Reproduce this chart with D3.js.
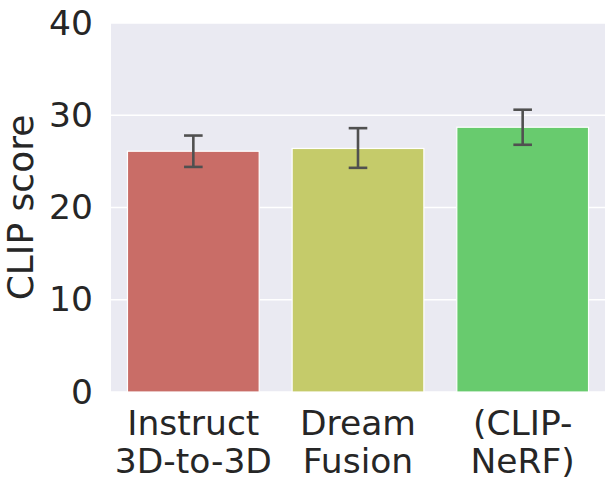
<!DOCTYPE html>
<html>
<head>
<meta charset="utf-8">
<script src="https://cdn.jsdelivr.net/npm/d3@7"></script>
<style>
  body { margin: 0; background: #fff; }
  svg { display: block; font-family: "DejaVu Sans", sans-serif; }
</style>
</head>
<body>
<div id="chart"></div>
<script>
// clip score bar chart
var methods = [["Instruct", "3D-to-3D"], ["Dream", "Fusion"], ["(CLIP-", "NeRF)"]];
var scores = [26.1, 26.4, 28.7];
var errLow = [24.4, 24.3, 26.8];
var errHigh = [27.8, 28.6, 30.6];
var barColors = ["#c96d67", "#c5cb6a", "#68cb6e"];
var yTicks = [0, 10, 20, 30, 40];

var width = 615, height = 489;
var margin = {top: 23, right: 10, bottom: 97, left: 111};
var innerW = width - margin.left - margin.right;
var innerH = height - margin.top - margin.bottom;

var svg = d3.select("#chart").append("svg")
    .attr("width", width)
    .attr("height", height);

var g = svg.append("g")
    .attr("transform", "translate(" + margin.left + "," + margin.top + ")");

var x = d3.scaleBand()
    .domain(d3.range(methods.length))
    .range([0, innerW])
    .paddingInner(0.2)
    .paddingOuter(0.1);

var y = d3.scaleLinear()
    .domain([0, 40])
    .range([innerH, 0]);

//background
g.append("rect")
    .attr("width", innerW)
    .attr("height", innerH)
    .attr("fill", "#eaeaf2");

//grid
g.selectAll(".grid")
    .data(yTicks)
    .enter().append("line")
    .attr("x1", 0)
    .attr("x2", innerW)
    .attr("y1", function(d) { return y(d); })
    .attr("y2", function(d) { return y(d); })
    .attr("stroke", "#fff")
    .attr("stroke-width", 1.3);

//bars
g.selectAll(".bar")
    .data(scores)
    .enter().append("rect")
    .attr("x", function(d, i) { return x(i); })
    .attr("y", function(d) { return y(d); })
    .attr("width", x.bandwidth())
    .attr("height", function(d) { return innerH - y(d); })
    .attr("fill", function(d, i) { return barColors[i]; })
    .attr("stroke", "#fff")
    .attr("stroke-width", 1.2);

//error bars
var cap = 9.3;
var eb = g.selectAll(".err")
    .data(scores)
    .enter().append("g")
    .attr("stroke", "#505050")
    .attr("stroke-width", 2.6);
eb.append("line")
    .attr("x1", function(d, i) { return x(i) + x.bandwidth() / 2; })
    .attr("x2", function(d, i) { return x(i) + x.bandwidth() / 2; })
    .attr("y1", function(d, i) { return y(errLow[i]); })
    .attr("y2", function(d, i) { return y(errHigh[i]); });
eb.append("line")
    .attr("x1", function(d, i) { return x(i) + x.bandwidth() / 2 - cap; })
    .attr("x2", function(d, i) { return x(i) + x.bandwidth() / 2 + cap; })
    .attr("y1", function(d, i) { return y(errHigh[i]); })
    .attr("y2", function(d, i) { return y(errHigh[i]); });
eb.append("line")
    .attr("x1", function(d, i) { return x(i) + x.bandwidth() / 2 - cap; })
    .attr("x2", function(d, i) { return x(i) + x.bandwidth() / 2 + cap; })
    .attr("y1", function(d, i) { return y(errLow[i]); })
    .attr("y2", function(d, i) { return y(errLow[i]); });

//y axis
var yAxis = g.append("g")
    .call(d3.axisLeft(y).tickValues(yTicks).tickSize(0).tickPadding(18));
yAxis.select(".domain").remove();
yAxis.selectAll("text")
    .attr("fill", "#262626")
    .style("font-size", "34.5px")
    .style("font-family", "DejaVu Sans");

//x labels
var xl = g.selectAll(".xlab")
    .data(methods)
    .enter().append("text")
    .attr("text-anchor", "middle")
    .attr("fill", "#262626")
    .style("font-size", "34.5px")
    .attr("transform", function(d, i) {
        return "translate(" + (x(i) + x.bandwidth() / 2) + "," + (innerH + 43) + ")";
    });
xl.selectAll("tspan")
    .data(function(d) { return d; })
    .enter().append("tspan")
    .attr("x", 0)
    .attr("dy", function(d, i) { return i ? 37.7 : 0; })
    .text(function(d) { return d; });

//y label
svg.append("text")
    .attr("transform", "translate(" + 33 + "," + (margin.top + innerH / 2) + ") rotate(-90)")
    .attr("text-anchor", "middle")
    .attr("fill", "#262626")
    .style("font-size", "36px")
    .text("CLIP score");
</script>
</body>
</html>
